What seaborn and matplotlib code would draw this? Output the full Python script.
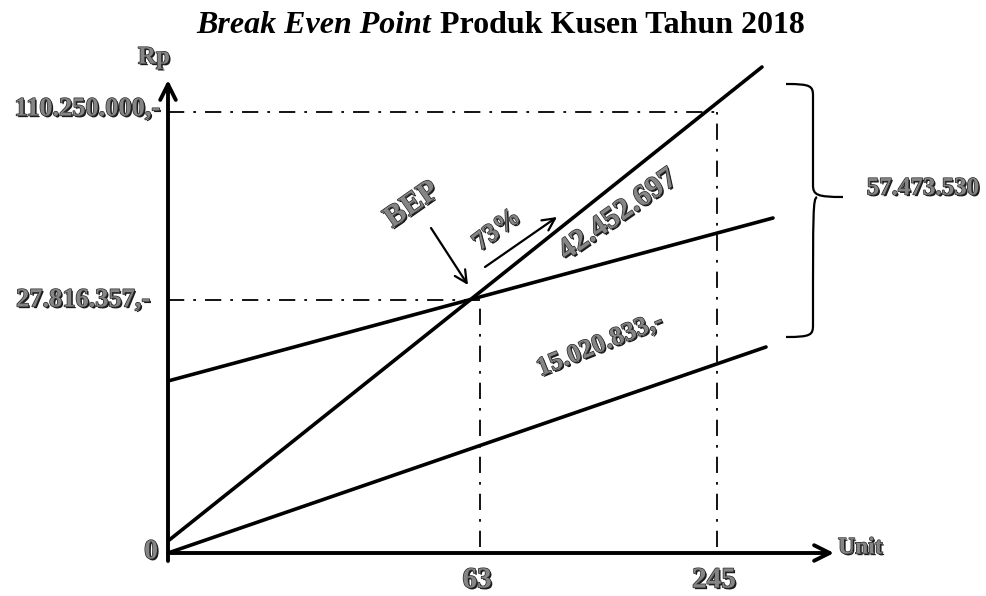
import numpy as np
import pandas as pd
import matplotlib.pyplot as plt
import matplotlib.patheffects as pe
from matplotlib.path import Path
from matplotlib.patches import PathPatch
import seaborn as sns

# schematic chart units (the original is a hand drawn diagram, not to scale)
revenue_x = [0, 594]
revenue_y = [12, 486]
total_cost_x = [0, 605]
total_cost_y = [172, 335]
variable_cost_x = [0, 598]
variable_cost_y = [0, 206]

bep_x, bep_y = 302, 253
unit_pos = [312, 549]
unit_labels = ["63", "245"]
rp_pos = [253, 441]
rp_labels = ["27.816.357,-", "110.250.000,-"]

sns.set_style("white")
plt.rcParams["font.family"] = ["Liberation Serif", "DejaVu Serif"]

fig = plt.figure(figsize=(9.87, 5.96), dpi=100)
ax = fig.add_axes([0, 0, 1, 1])
ax.set_xlim(-168, 819)
ax.set_ylim(-43, 553)
ax.axis("off")

lines = pd.concat([
    pd.DataFrame({"x": revenue_x, "y": revenue_y, "garis": "Penjualan"}),
    pd.DataFrame({"x": total_cost_x, "y": total_cost_y, "garis": "Biaya Total"}),
    pd.DataFrame({"x": variable_cost_x, "y": variable_cost_y, "garis": "Biaya Variabel"}),
])
sns.lineplot(data=lines, x="x", y="y", units="garis", estimator=None,
             color="black", linewidth=2.6, ax=ax, legend=False)

# dash-dot guide lines
dd = (0, (9, 5, 1.5, 5))
ax.plot([0, unit_pos[1]], [rp_pos[1], rp_pos[1]], color="black", lw=1.3, linestyle=dd)
ax.plot([unit_pos[1], unit_pos[1]], [6, rp_pos[1]], color="black", lw=1.3, linestyle=dd)
ax.plot([0, unit_pos[0]], [rp_pos[0], rp_pos[0]], color="black", lw=1.3, linestyle=dd)
ax.plot([unit_pos[0], unit_pos[0]], [6, rp_pos[0]], color="black", lw=1.3, linestyle=dd)

# axes with arrows
ax.annotate("", xy=(0, 473), xytext=(0, -8),
            arrowprops=dict(arrowstyle="->", lw=2.8, mutation_scale=28, color="black",
                            shrinkA=0, shrinkB=0))
ax.annotate("", xy=(666, 0), xytext=(0, 0),
            arrowprops=dict(arrowstyle="->", lw=2.8, mutation_scale=28, color="black",
                            shrinkA=0, shrinkB=0))

# BEP and percentage arrows
ax.annotate("", xy=(300, 268), xytext=(263, 325),
            arrowprops=dict(arrowstyle="->", lw=1.6, mutation_scale=22, color="black",
                            shrinkA=0, shrinkB=0))
ax.annotate("", xy=(389, 336), xytext=(317, 286),
            arrowprops=dict(arrowstyle="->", lw=1.6, mutation_scale=22, color="black",
                            shrinkA=0, shrinkB=0))

# curly brace
bx0, bx1, bx2 = 618, 645, 675
by_top, by_mid, by_bot = 469, 356, 216
verts = [(bx0, by_top), (bx1 - 2, by_top), (bx1, by_top - 2), (bx1, by_top - 12),
         (bx1, by_mid + 12),
         (bx1, by_mid + 2), (bx1 + 4, by_mid), (bx2, by_mid),
         (bx1 + 4, by_mid), (bx1, by_mid - 2), (bx1, by_mid - 12),
         (bx1, by_bot + 12),
         (bx1, by_bot + 2), (bx1 - 2, by_bot), (bx0, by_bot)]
codes = [Path.MOVETO, Path.CURVE4, Path.CURVE4, Path.CURVE4,
         Path.LINETO,
         Path.CURVE4, Path.CURVE4, Path.CURVE4,
         Path.MOVETO, Path.CURVE4, Path.CURVE4,
         Path.LINETO,
         Path.CURVE4, Path.CURVE4, Path.CURVE4]
ax.add_patch(PathPatch(Path(verts, codes), fill=False, lw=1.6, color="black"))

# shadowed grey labels like the original
fx = [pe.withSimplePatchShadow(offset=(1.2, -1.2), shadow_rgbFace="black", alpha=0.9),
      pe.withStroke(linewidth=1.0, foreground="#2a2a2a")]


def label(x, y, s, size=15, rot=0, ha="center", va="center"):
    ax.text(x, y, s, fontsize=size, fontweight="bold", color="#858585",
            rotation=rot, ha=ha, va=va, path_effects=fx, rotation_mode="anchor")


label(-14, 496, "Rp", size=18)
label(-8, rp_pos[1] + 3, rp_labels[1], size=19, ha="right")
label(-18, rp_pos[0], rp_labels[0], size=19, ha="right")
label(-17, 1, "0", size=20)
for pos, lab in zip(unit_pos, unit_labels):
    label(pos - 3, -27, lab, size=21)
label(670, 5, "Unit", size=17, ha="left")
label(244, 348, "BEP", size=22, rot=35)
label(329, 323, "73%", size=19, rot=37)
label(450, 338, "42.452.697", size=22, rot=35)
label(432, 208, "15.020.833,-", size=19, rot=22)
label(755, 365, "57.473.530", size=18)

# title
fig.text(0.437, 0.958, "Break Even Point", fontsize=23, fontweight="bold",
         fontstyle="italic", ha="right", va="center", color="black")
fig.text(0.446, 0.958, "Produk Kusen Tahun 2018", fontsize=23, fontweight="bold",
         ha="left", va="center", color="black")

plt.savefig("out.png", dpi=100)
